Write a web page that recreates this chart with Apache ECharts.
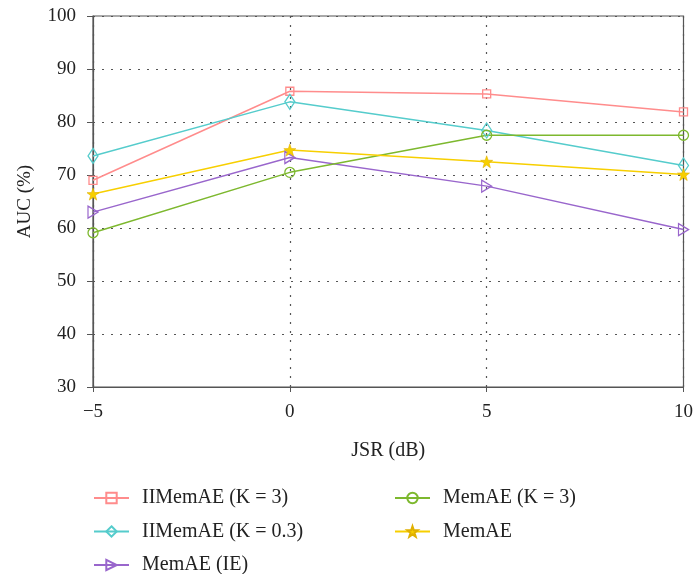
<!DOCTYPE html>
<html>
<head>
<meta charset="utf-8">
<script src="https://cdn.jsdelivr.net/npm/echarts@6/dist/echarts.min.js"></script>
<style>
  html, body { margin: 0; padding: 0; background: #fff; }
  #chart { width: 696px; height: 574px; }
</style>
</head>
<body>
<div id="chart"></div>
<script>
// x positions (JSR, dB)
const jsr = [-5, 0, 5, 10];

// AUC (%)
const iimemaeK3 = [69.0, 85.8, 85.3, 81.9];
const iimemaeK03 = [73.6, 83.8, 78.4, 71.8];
const memaeK3 = [59.1, 70.5, 77.5, 77.5];
const memae = [66.4, 74.7, 72.5, 70.1];
const memaeIE = [63.0, 73.3, 67.9, 59.7];

const names = ["IIMemAE (K = 3)", "IIMemAE (K = 0.3)", "MemAE (IE)", "MemAE (K = 3)", "MemAE"];

const FONT = "Liberation Serif";
const AXIS_COLOR = "#555";
const TEXT_COLOR = "#222";
const STAR = "path://M0,-10L2.35,-3.24L9.51,-3.09L3.8,1.24L5.88,8.09L0,4L-5.88,8.09L-3.8,1.24L-9.51,-3.09L-2.35,-3.24Z";

function pairs(ys) {
    return jsr.map(function (x, i) { return [x, ys[i]]; });
}

/**
 * 生成一条折线
 */
function makeLine(name, ys, color, symbol, size, filled, rotate) {
    return {
        name: name,
        type: "line",
        data: pairs(ys),
        symbol: symbol,
        symbolSize: size,
        symbolRotate: rotate || 0,
        showAllSymbol: true,
        lineStyle: { color: color, width: 1.5 },
        itemStyle: {
            color: filled ? color : "rgba(255,255,255,0)",
            borderColor: filled ? "#e0b000" : color,
            borderWidth: filled ? 0.6 : 1.3
        },
        emphasis: { disabled: true },
        animation: false
    };
}

const series = [
    makeLine(names[0], iimemaeK3, "#FF8C8C", "rect", [8, 8], false),
    makeLine(names[1], iimemaeK03, "#55CCCC", "diamond", [10, 15], false),
    makeLine(names[2], memaeIE, "#9966CC", "triangle", [12, 10], false, -90),
    makeLine(names[3], memaeK3, "#7DB82E", "circle", 10, false),
    makeLine(names[4], memae, "#F7CF00", STAR, 12, true)
];

// 图例: 两列, 每项单独放置
const legendLeft = [93, 93, 93, 394, 394];
const legendRow = [0, 1, 2, 0, 1];

const legends = names.map(function (n, i) {
    return {
        data: [n],
        left: legendLeft[i],
        top: 488 + legendRow[i] * 33.5,
        padding: 0,
        itemWidth: 35,
        itemHeight: 13,
        textStyle: {
            fontFamily: FONT,
            fontSize: 20,
            color: TEXT_COLOR,
            lineHeight: 20,
            padding: [0, 0, 0, 8]
        }
    };
});

const chart = echarts.init(document.getElementById("chart"), null, { renderer: "canvas" });

chart.setOption({
    backgroundColor: "#fff",
    grid: {
        left: 93,
        right: 9,
        top: 16,
        bottom: 187,
        show: true,
        borderColor: AXIS_COLOR,
        borderWidth: 1.2,
        backgroundColor: "transparent"
    },
    legend: legends,
    xAxis: {
        type: "value",
        min: -5,
        max: 10,
        interval: 5,
        name: "JSR (dB)",
        nameLocation: "middle",
        nameGap: 54,
        nameTextStyle: { fontFamily: FONT, fontSize: 20, color: TEXT_COLOR },
        axisLine: { onZero: false, lineStyle: { color: AXIS_COLOR, width: 1.2 } },
        axisTick: { length: 5, lineStyle: { color: AXIS_COLOR } },
        axisLabel: {
            fontFamily: FONT,
            fontSize: 19,
            color: TEXT_COLOR,
            margin: 16,
            formatter: function (v) { return v < 0 ? "\u2212" + Math.abs(v) : String(v); }
        },
        splitLine: { show: true, lineStyle: { color: AXIS_COLOR, type: [2, 7], width: 1.2 } }
    },
    yAxis: {
        type: "value",
        min: 30,
        max: 100,
        interval: 10,
        name: "AUC (%)",
        nameLocation: "middle",
        nameGap: 58,
        nameTextStyle: { fontFamily: FONT, fontSize: 19, color: TEXT_COLOR },
        axisLine: { show: true, onZero: false, lineStyle: { color: AXIS_COLOR, width: 1.2 } },
        axisTick: { show: true, length: 6, lineStyle: { color: AXIS_COLOR } },
        axisLabel: { fontFamily: FONT, fontSize: 19, color: TEXT_COLOR, margin: 17 },
        splitLine: { show: true, lineStyle: { color: AXIS_COLOR, type: [2, 7], width: 1.2 } }
    },
    series: series
});
</script>
</body>
</html>
